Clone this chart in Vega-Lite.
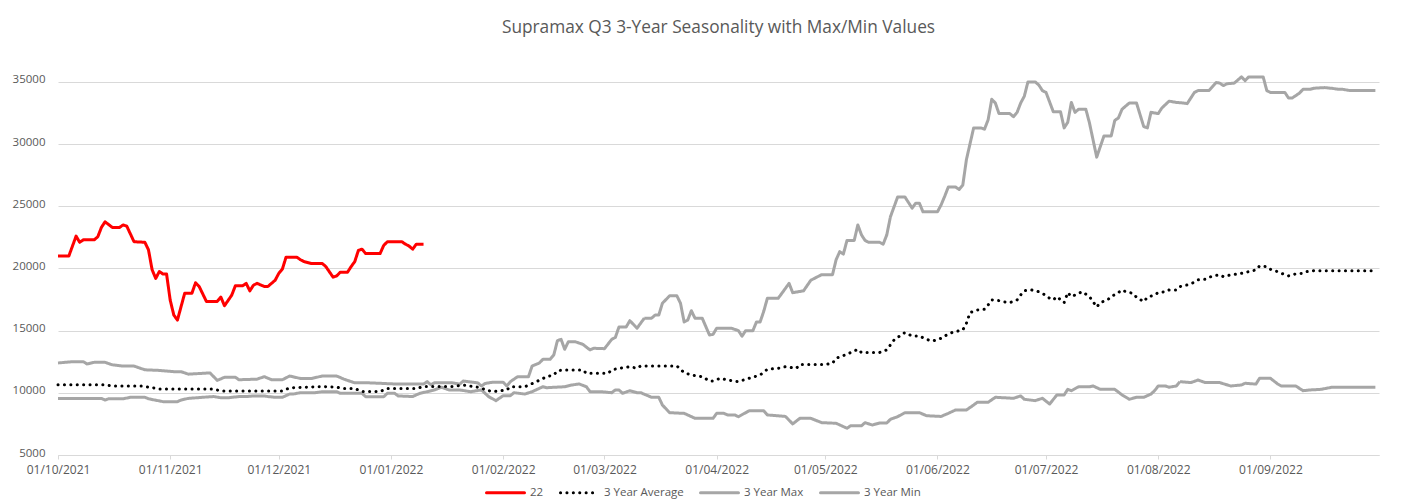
{
  "$schema": "https://vega.github.io/schema/vega-lite/v6.json",
  "width": 1321,
  "height": 398,
  "autosize": {"type": "none"},
  "padding": {"left": 58, "top": 57, "right": 25, "bottom": 49},
  "background": "white",
  "config": {"view": {"stroke": null}, "font": "Open Sans"},
  "title": {"text": "Supramax Q3 3-Year Seasonality with Max/Min Values", "fontSize": 17.3, "fontWeight": "normal", "color": "#595959", "anchor": "middle", "offset": 21},
  "datasets": {
    "s22": [
      {"date":"2021-10-01","value":21000},{"date":"2021-10-04","value":21000},{"date":"2021-10-06","value":22600},{"date":"2021-10-07","value":22100},{"date":"2021-10-08","value":22300},{"date":"2021-10-11","value":22300},{"date":"2021-10-12","value":22550},{"date":"2021-10-13","value":23300},{"date":"2021-10-14","value":23750},{"date":"2021-10-16","value":23300},{"date":"2021-10-18","value":23300},{"date":"2021-10-19","value":23500},{"date":"2021-10-20","value":23400},{"date":"2021-10-22","value":22150},{"date":"2021-10-25","value":22100},{"date":"2021-10-26","value":21500},{"date":"2021-10-27","value":19900},{"date":"2021-10-28","value":19200},{"date":"2021-10-29","value":19750},{"date":"2021-10-30","value":19550},{"date":"2021-10-31","value":19550},{"date":"2021-11-01","value":17450},{"date":"2021-11-02","value":16250},{"date":"2021-11-03","value":15850},{"date":"2021-11-05","value":18000},{"date":"2021-11-07","value":18000},{"date":"2021-11-08","value":18850},{"date":"2021-11-09","value":18550},{"date":"2021-11-11","value":17350},{"date":"2021-11-14","value":17350},{"date":"2021-11-15","value":17700},{"date":"2021-11-16","value":17000},{"date":"2021-11-18","value":17850},{"date":"2021-11-19","value":18600},{"date":"2021-11-21","value":18600},{"date":"2021-11-22","value":18800},{"date":"2021-11-23","value":18200},{"date":"2021-11-24","value":18650},{"date":"2021-11-25","value":18800},{"date":"2021-11-27","value":18550},{"date":"2021-11-28","value":18550},{"date":"2021-11-30","value":19050},{"date":"2021-12-01","value":19600},{"date":"2021-12-02","value":19950},{"date":"2021-12-03","value":20900},{"date":"2021-12-06","value":20900},{"date":"2021-12-07","value":20700},{"date":"2021-12-08","value":20550},{"date":"2021-12-10","value":20400},{"date":"2021-12-13","value":20400},{"date":"2021-12-14","value":20150},{"date":"2021-12-16","value":19300},{"date":"2021-12-17","value":19400},{"date":"2021-12-18","value":19700},{"date":"2021-12-20","value":19700},{"date":"2021-12-21","value":20150},{"date":"2021-12-22","value":20550},{"date":"2021-12-23","value":21450},{"date":"2021-12-24","value":21550},{"date":"2021-12-25","value":21200},{"date":"2021-12-29","value":21200},{"date":"2021-12-30","value":21850},{"date":"2021-12-31","value":22150},{"date":"2022-01-04","value":22150},{"date":"2022-01-05","value":21950},{"date":"2022-01-06","value":21800},{"date":"2022-01-07","value":21550},{"date":"2022-01-08","value":21950},{"date":"2022-01-10","value":21950}
    ],
    "avg": [
      {"date":"2021-10-01","value":10650},{"date":"2021-10-14","value":10650},{"date":"2021-10-16","value":10550},{"date":"2021-10-24","value":10550},{"date":"2021-10-27","value":10420},{"date":"2021-10-29","value":10300},{"date":"2021-11-13","value":10300},{"date":"2021-11-15","value":10150},{"date":"2021-12-02","value":10150},{"date":"2021-12-04","value":10400},{"date":"2021-12-08","value":10450},{"date":"2021-12-13","value":10500},{"date":"2021-12-17","value":10450},{"date":"2021-12-19","value":10350},{"date":"2021-12-22","value":10350},{"date":"2021-12-24","value":10100},{"date":"2021-12-29","value":10100},{"date":"2021-12-31","value":10350},{"date":"2022-01-08","value":10350},{"date":"2022-01-10","value":10500},{"date":"2022-01-18","value":10500},{"date":"2022-01-21","value":10630},{"date":"2022-01-25","value":10450},{"date":"2022-01-29","value":10090},{"date":"2022-02-02","value":10230},{"date":"2022-02-03","value":10490},{"date":"2022-02-07","value":10490},{"date":"2022-02-10","value":10870},{"date":"2022-02-13","value":11300},{"date":"2022-02-15","value":11430},{"date":"2022-02-16","value":11780},{"date":"2022-02-18","value":11840},{"date":"2022-02-23","value":11840},{"date":"2022-02-24","value":11570},{"date":"2022-03-02","value":11570},{"date":"2022-03-03","value":11840},{"date":"2022-03-05","value":11970},{"date":"2022-03-08","value":12100},{"date":"2022-03-10","value":11970},{"date":"2022-03-11","value":12160},{"date":"2022-03-21","value":12160},{"date":"2022-03-23","value":11620},{"date":"2022-03-25","value":11430},{"date":"2022-03-28","value":11300},{"date":"2022-03-30","value":10950},{"date":"2022-03-31","value":10950},{"date":"2022-04-02","value":11170},{"date":"2022-04-04","value":11030},{"date":"2022-04-07","value":10900},{"date":"2022-04-10","value":11170},{"date":"2022-04-13","value":11430},{"date":"2022-04-15","value":11890},{"date":"2022-04-18","value":11970},{"date":"2022-04-20","value":12100},{"date":"2022-04-23","value":11970},{"date":"2022-04-24","value":12280},{"date":"2022-05-01","value":12280},{"date":"2022-05-03","value":12380},{"date":"2022-05-04","value":12780},{"date":"2022-05-07","value":13100},{"date":"2022-05-08","value":13230},{"date":"2022-05-10","value":13500},{"date":"2022-05-11","value":13240},{"date":"2022-05-16","value":13240},{"date":"2022-05-18","value":13450},{"date":"2022-05-19","value":13850},{"date":"2022-05-20","value":14250},{"date":"2022-05-22","value":14650},{"date":"2022-05-23","value":14840},{"date":"2022-05-25","value":14570},{"date":"2022-05-27","value":14570},{"date":"2022-05-28","value":14430},{"date":"2022-05-30","value":14190},{"date":"2022-05-31","value":14190},{"date":"2022-06-02","value":14380},{"date":"2022-06-03","value":14570},{"date":"2022-06-05","value":14840},{"date":"2022-06-06","value":14920},{"date":"2022-06-08","value":15050},{"date":"2022-06-09","value":15590},{"date":"2022-06-10","value":16450},{"date":"2022-06-12","value":16660},{"date":"2022-06-14","value":16720},{"date":"2022-06-15","value":17060},{"date":"2022-06-16","value":17470},{"date":"2022-06-18","value":17410},{"date":"2022-06-19","value":17330},{"date":"2022-06-21","value":17250},{"date":"2022-06-23","value":17470},{"date":"2022-06-24","value":17870},{"date":"2022-06-25","value":18210},{"date":"2022-06-27","value":18270},{"date":"2022-06-29","value":18130},{"date":"2022-06-30","value":18000},{"date":"2022-07-02","value":17600},{"date":"2022-07-03","value":17470},{"date":"2022-07-04","value":17730},{"date":"2022-07-06","value":17250},{"date":"2022-07-07","value":18060},{"date":"2022-07-08","value":17730},{"date":"2022-07-10","value":18000},{"date":"2022-07-11","value":18130},{"date":"2022-07-13","value":17730},{"date":"2022-07-14","value":17330},{"date":"2022-07-15","value":16900},{"date":"2022-07-16","value":17250},{"date":"2022-07-18","value":17470},{"date":"2022-07-19","value":17730},{"date":"2022-07-21","value":18060},{"date":"2022-07-22","value":18270},{"date":"2022-07-23","value":18130},{"date":"2022-07-25","value":18000},{"date":"2022-07-26","value":17680},{"date":"2022-07-28","value":17330},{"date":"2022-07-29","value":17680},{"date":"2022-07-31","value":17870},{"date":"2022-08-01","value":18060},{"date":"2022-08-03","value":18130},{"date":"2022-08-04","value":18270},{"date":"2022-08-06","value":18270},{"date":"2022-08-07","value":18540},{"date":"2022-08-09","value":18670},{"date":"2022-08-11","value":18890},{"date":"2022-08-12","value":19080},{"date":"2022-08-14","value":19130},{"date":"2022-08-16","value":19400},{"date":"2022-08-18","value":19480},{"date":"2022-08-19","value":19340},{"date":"2022-08-21","value":19480},{"date":"2022-08-23","value":19560},{"date":"2022-08-25","value":19660},{"date":"2022-08-26","value":19740},{"date":"2022-08-28","value":19880},{"date":"2022-08-29","value":20200},{"date":"2022-08-31","value":20140},{"date":"2022-09-01","value":19930},{"date":"2022-09-03","value":19740},{"date":"2022-09-04","value":19610},{"date":"2022-09-06","value":19400},{"date":"2022-09-08","value":19560},{"date":"2022-09-10","value":19610},{"date":"2022-09-11","value":19740},{"date":"2022-09-13","value":19820},{"date":"2022-09-30","value":19820}
    ],
    "max": [
      {"date":"2021-10-01","value":12400},{"date":"2021-10-05","value":12500},{"date":"2021-10-08","value":12500},{"date":"2021-10-09","value":12320},{"date":"2021-10-11","value":12450},{"date":"2021-10-14","value":12450},{"date":"2021-10-16","value":12250},{"date":"2021-10-19","value":12150},{"date":"2021-10-22","value":12150},{"date":"2021-10-25","value":11850},{"date":"2021-10-29","value":11800},{"date":"2021-11-02","value":11700},{"date":"2021-11-04","value":11700},{"date":"2021-11-06","value":11500},{"date":"2021-11-12","value":11600},{"date":"2021-11-14","value":11000},{"date":"2021-11-16","value":11250},{"date":"2021-11-19","value":11250},{"date":"2021-11-20","value":11050},{"date":"2021-11-25","value":11100},{"date":"2021-11-27","value":11300},{"date":"2021-11-29","value":11050},{"date":"2021-12-02","value":11050},{"date":"2021-12-04","value":11350},{"date":"2021-12-07","value":11150},{"date":"2021-12-10","value":11150},{"date":"2021-12-13","value":11350},{"date":"2021-12-17","value":11350},{"date":"2021-12-19","value":11100},{"date":"2021-12-22","value":10800},{"date":"2021-12-26","value":10800},{"date":"2021-12-30","value":10750},{"date":"2022-01-03","value":10700},{"date":"2022-01-10","value":10700},{"date":"2022-01-11","value":10900},{"date":"2022-01-12","value":10650},{"date":"2022-01-13","value":10800},{"date":"2022-01-18","value":10800},{"date":"2022-01-20","value":10700},{"date":"2022-01-21","value":10950},{"date":"2022-01-25","value":10800},{"date":"2022-01-26","value":10550},{"date":"2022-01-27","value":10750},{"date":"2022-01-29","value":10850},{"date":"2022-02-01","value":10850},{"date":"2022-02-02","value":10550},{"date":"2022-02-03","value":10900},{"date":"2022-02-05","value":11300},{"date":"2022-02-08","value":11300},{"date":"2022-02-09","value":12150},{"date":"2022-02-11","value":12400},{"date":"2022-02-12","value":12700},{"date":"2022-02-14","value":12700},{"date":"2022-02-15","value":13050},{"date":"2022-02-16","value":14200},{"date":"2022-02-17","value":14300},{"date":"2022-02-18","value":13500},{"date":"2022-02-19","value":14100},{"date":"2022-02-21","value":14100},{"date":"2022-02-23","value":13900},{"date":"2022-02-25","value":13450},{"date":"2022-02-26","value":13580},{"date":"2022-03-01","value":13550},{"date":"2022-03-03","value":14300},{"date":"2022-03-04","value":14450},{"date":"2022-03-05","value":15300},{"date":"2022-03-07","value":15300},{"date":"2022-03-08","value":15800},{"date":"2022-03-10","value":15200},{"date":"2022-03-12","value":16000},{"date":"2022-03-14","value":16000},{"date":"2022-03-15","value":16250},{"date":"2022-03-16","value":16250},{"date":"2022-03-17","value":17200},{"date":"2022-03-19","value":17800},{"date":"2022-03-21","value":17800},{"date":"2022-03-22","value":17200},{"date":"2022-03-23","value":15700},{"date":"2022-03-24","value":15850},{"date":"2022-03-25","value":16600},{"date":"2022-03-26","value":16000},{"date":"2022-03-28","value":16000},{"date":"2022-03-30","value":14650},{"date":"2022-03-31","value":14700},{"date":"2022-04-01","value":15200},{"date":"2022-04-05","value":15200},{"date":"2022-04-07","value":15000},{"date":"2022-04-08","value":14550},{"date":"2022-04-09","value":15000},{"date":"2022-04-11","value":15000},{"date":"2022-04-12","value":15700},{"date":"2022-04-13","value":15700},{"date":"2022-04-14","value":16550},{"date":"2022-04-15","value":17600},{"date":"2022-04-18","value":17600},{"date":"2022-04-19","value":18000},{"date":"2022-04-21","value":18800},{"date":"2022-04-22","value":18050},{"date":"2022-04-25","value":18200},{"date":"2022-04-27","value":19050},{"date":"2022-04-30","value":19500},{"date":"2022-05-03","value":19500},{"date":"2022-05-04","value":20700},{"date":"2022-05-05","value":21350},{"date":"2022-05-06","value":21150},{"date":"2022-05-07","value":22250},{"date":"2022-05-09","value":22250},{"date":"2022-05-10","value":23500},{"date":"2022-05-11","value":22700},{"date":"2022-05-12","value":22250},{"date":"2022-05-13","value":22100},{"date":"2022-05-16","value":22100},{"date":"2022-05-17","value":21950},{"date":"2022-05-18","value":22700},{"date":"2022-05-19","value":24150},{"date":"2022-05-21","value":25750},{"date":"2022-05-23","value":25750},{"date":"2022-05-25","value":24850},{"date":"2022-05-26","value":25250},{"date":"2022-05-27","value":25250},{"date":"2022-05-28","value":24550},{"date":"2022-06-01","value":24550},{"date":"2022-06-02","value":25100},{"date":"2022-06-03","value":25800},{"date":"2022-06-04","value":26550},{"date":"2022-06-06","value":26550},{"date":"2022-06-07","value":26350},{"date":"2022-06-08","value":26700},{"date":"2022-06-09","value":28750},{"date":"2022-06-11","value":31300},{"date":"2022-06-13","value":31300},{"date":"2022-06-14","value":31200},{"date":"2022-06-15","value":31950},{"date":"2022-06-16","value":33600},{"date":"2022-06-17","value":33300},{"date":"2022-06-18","value":32450},{"date":"2022-06-21","value":32450},{"date":"2022-06-22","value":32200},{"date":"2022-06-23","value":32550},{"date":"2022-06-24","value":33300},{"date":"2022-06-25","value":33850},{"date":"2022-06-26","value":35000},{"date":"2022-06-28","value":35000},{"date":"2022-06-29","value":34750},{"date":"2022-06-30","value":34300},{"date":"2022-07-01","value":34150},{"date":"2022-07-03","value":32600},{"date":"2022-07-05","value":32600},{"date":"2022-07-06","value":31300},{"date":"2022-07-07","value":31750},{"date":"2022-07-08","value":33350},{"date":"2022-07-09","value":32550},{"date":"2022-07-10","value":32800},{"date":"2022-07-12","value":32800},{"date":"2022-07-13","value":31700},{"date":"2022-07-15","value":28950},{"date":"2022-07-17","value":30650},{"date":"2022-07-19","value":30650},{"date":"2022-07-20","value":31900},{"date":"2022-07-21","value":32100},{"date":"2022-07-22","value":32800},{"date":"2022-07-24","value":33300},{"date":"2022-07-26","value":33300},{"date":"2022-07-28","value":31400},{"date":"2022-07-29","value":31300},{"date":"2022-07-30","value":32550},{"date":"2022-08-01","value":32450},{"date":"2022-08-02","value":32900},{"date":"2022-08-04","value":33450},{"date":"2022-08-06","value":33350},{"date":"2022-08-08","value":33300},{"date":"2022-08-09","value":33250},{"date":"2022-08-11","value":34150},{"date":"2022-08-12","value":34300},{"date":"2022-08-15","value":34300},{"date":"2022-08-17","value":34950},{"date":"2022-08-18","value":34900},{"date":"2022-08-19","value":34700},{"date":"2022-08-20","value":34850},{"date":"2022-08-22","value":34900},{"date":"2022-08-24","value":35400},{"date":"2022-08-25","value":35100},{"date":"2022-08-26","value":35400},{"date":"2022-08-30","value":35400},{"date":"2022-08-31","value":34300},{"date":"2022-09-01","value":34150},{"date":"2022-09-05","value":34150},{"date":"2022-09-06","value":33700},{"date":"2022-09-07","value":33700},{"date":"2022-09-09","value":34090},{"date":"2022-09-10","value":34400},{"date":"2022-09-12","value":34400},{"date":"2022-09-13","value":34490},{"date":"2022-09-16","value":34540},{"date":"2022-09-18","value":34480},{"date":"2022-09-20","value":34400},{"date":"2022-09-21","value":34400},{"date":"2022-09-23","value":34300},{"date":"2022-09-30","value":34300}
    ],
    "min": [
      {"date":"2021-10-01","value":9550},{"date":"2021-10-07","value":9550},{"date":"2021-10-13","value":9550},{"date":"2021-10-14","value":9420},{"date":"2021-10-15","value":9520},{"date":"2021-10-19","value":9520},{"date":"2021-10-21","value":9640},{"date":"2021-10-25","value":9640},{"date":"2021-10-26","value":9520},{"date":"2021-10-30","value":9290},{"date":"2021-11-03","value":9290},{"date":"2021-11-04","value":9420},{"date":"2021-11-06","value":9550},{"date":"2021-11-10","value":9640},{"date":"2021-11-13","value":9700},{"date":"2021-11-15","value":9600},{"date":"2021-11-17","value":9600},{"date":"2021-11-20","value":9700},{"date":"2021-11-22","value":9700},{"date":"2021-11-24","value":9750},{"date":"2021-11-27","value":9750},{"date":"2021-11-28","value":9700},{"date":"2021-11-30","value":9640},{"date":"2021-12-02","value":9640},{"date":"2021-12-04","value":9900},{"date":"2021-12-05","value":9900},{"date":"2021-12-07","value":10010},{"date":"2021-12-11","value":10010},{"date":"2021-12-13","value":10090},{"date":"2021-12-17","value":10090},{"date":"2021-12-18","value":9960},{"date":"2021-12-24","value":9960},{"date":"2021-12-25","value":9690},{"date":"2021-12-30","value":9690},{"date":"2021-12-31","value":9960},{"date":"2022-01-02","value":9960},{"date":"2022-01-03","value":9750},{"date":"2022-01-07","value":9700},{"date":"2022-01-09","value":9960},{"date":"2022-01-11","value":10090},{"date":"2022-01-13","value":10230},{"date":"2022-01-15","value":10450},{"date":"2022-01-17","value":10230},{"date":"2022-01-20","value":10230},{"date":"2022-01-23","value":10090},{"date":"2022-01-26","value":10230},{"date":"2022-01-28","value":9690},{"date":"2022-01-30","value":9370},{"date":"2022-02-01","value":9770},{"date":"2022-02-03","value":9770},{"date":"2022-02-04","value":10010},{"date":"2022-02-07","value":9900},{"date":"2022-02-09","value":10090},{"date":"2022-02-12","value":10490},{"date":"2022-02-13","value":10410},{"date":"2022-02-18","value":10490},{"date":"2022-02-20","value":10630},{"date":"2022-02-22","value":10710},{"date":"2022-02-24","value":10490},{"date":"2022-02-25","value":10090},{"date":"2022-02-28","value":10090},{"date":"2022-03-03","value":10010},{"date":"2022-03-04","value":10230},{"date":"2022-03-05","value":10230},{"date":"2022-03-06","value":9960},{"date":"2022-03-08","value":10170},{"date":"2022-03-10","value":10010},{"date":"2022-03-11","value":10010},{"date":"2022-03-14","value":9640},{"date":"2022-03-16","value":9640},{"date":"2022-03-17","value":9020},{"date":"2022-03-19","value":8400},{"date":"2022-03-23","value":8350},{"date":"2022-03-26","value":7950},{"date":"2022-03-31","value":7950},{"date":"2022-04-01","value":8350},{"date":"2022-04-03","value":8350},{"date":"2022-04-04","value":8220},{"date":"2022-04-06","value":8220},{"date":"2022-04-07","value":8080},{"date":"2022-04-10","value":8560},{"date":"2022-04-14","value":8560},{"date":"2022-04-15","value":8220},{"date":"2022-04-20","value":8100},{"date":"2022-04-22","value":7500},{"date":"2022-04-24","value":7950},{"date":"2022-04-27","value":7950},{"date":"2022-04-30","value":7600},{"date":"2022-05-04","value":7550},{"date":"2022-05-07","value":7150},{"date":"2022-05-08","value":7350},{"date":"2022-05-11","value":7350},{"date":"2022-05-12","value":7600},{"date":"2022-05-14","value":7410},{"date":"2022-05-16","value":7570},{"date":"2022-05-18","value":7570},{"date":"2022-05-19","value":7870},{"date":"2022-05-21","value":8080},{"date":"2022-05-23","value":8400},{"date":"2022-05-27","value":8400},{"date":"2022-05-29","value":8160},{"date":"2022-06-02","value":8100},{"date":"2022-06-04","value":8350},{"date":"2022-06-06","value":8620},{"date":"2022-06-09","value":8620},{"date":"2022-06-11","value":9020},{"date":"2022-06-12","value":9240},{"date":"2022-06-15","value":9240},{"date":"2022-06-17","value":9640},{"date":"2022-06-22","value":9560},{"date":"2022-06-24","value":9750},{"date":"2022-06-25","value":9480},{"date":"2022-06-28","value":9370},{"date":"2022-06-30","value":9560},{"date":"2022-07-02","value":9100},{"date":"2022-07-04","value":9830},{"date":"2022-07-06","value":9830},{"date":"2022-07-07","value":10280},{"date":"2022-07-08","value":10170},{"date":"2022-07-10","value":10490},{"date":"2022-07-13","value":10480},{"date":"2022-07-14","value":10550},{"date":"2022-07-16","value":10280},{"date":"2022-07-20","value":10280},{"date":"2022-07-22","value":9830},{"date":"2022-07-24","value":9480},{"date":"2022-07-26","value":9640},{"date":"2022-07-28","value":9640},{"date":"2022-07-30","value":9900},{"date":"2022-07-31","value":10170},{"date":"2022-08-01","value":10550},{"date":"2022-08-03","value":10550},{"date":"2022-08-04","value":10450},{"date":"2022-08-06","value":10550},{"date":"2022-08-07","value":10900},{"date":"2022-08-10","value":10820},{"date":"2022-08-12","value":11030},{"date":"2022-08-14","value":10820},{"date":"2022-08-18","value":10820},{"date":"2022-08-21","value":10550},{"date":"2022-08-24","value":10630},{"date":"2022-08-25","value":10770},{"date":"2022-08-28","value":10700},{"date":"2022-08-29","value":11170},{"date":"2022-09-01","value":11170},{"date":"2022-09-03","value":10710},{"date":"2022-09-04","value":10550},{"date":"2022-09-08","value":10550},{"date":"2022-09-10","value":10170},{"date":"2022-09-12","value":10230},{"date":"2022-09-15","value":10280},{"date":"2022-09-18","value":10450},{"date":"2022-09-23","value":10450},{"date":"2022-09-30","value":10450}
    ]
  },
  "layer": [
    {
      "data": {"name": "min"},
      "transform": [{"calculate": "'3 Year Min'", "as": "series"}],
      "mark": {"type": "line", "strokeWidth": 3, "strokeJoin": "round"},
      "encoding": {
        "x": {"field": "date", "type": "temporal"},
        "y": {"field": "value", "type": "quantitative"},
        "color": {"field": "series", "type": "nominal"},
        "strokeDash": {"field": "series", "type": "nominal"}
      }
    },
    {
      "data": {"name": "max"},
      "transform": [{"calculate": "'3 Year Max'", "as": "series"}],
      "mark": {"type": "line", "strokeWidth": 3, "strokeJoin": "round"},
      "encoding": {
        "x": {"field": "date", "type": "temporal"},
        "y": {"field": "value", "type": "quantitative"},
        "color": {"field": "series", "type": "nominal"},
        "strokeDash": {"field": "series", "type": "nominal"}
      }
    },
    {
      "data": {"name": "avg"},
      "transform": [{"calculate": "'3 Year Average'", "as": "series"}],
      "mark": {"type": "line", "strokeWidth": 3, "strokeCap": "round"},
      "encoding": {
        "x": {"field": "date", "type": "temporal"},
        "y": {"field": "value", "type": "quantitative"},
        "color": {"field": "series", "type": "nominal"},
        "strokeDash": {"field": "series", "type": "nominal"}
      }
    },
    {
      "data": {"name": "s22"},
      "transform": [{"calculate": "'22'", "as": "series"}],
      "mark": {"type": "line", "strokeWidth": 3, "strokeJoin": "round"},
      "encoding": {
        "x": {
          "field": "date", "type": "temporal",
          "scale": {"type": "utc", "domain": [{"year": 2021, "month": 10, "date": 1, "utc": true}, {"year": 2022, "month": 10, "date": 1, "utc": true}]},
          "axis": {
            "title": null, "grid": false, "format": "%d/%m/%Y",
            "values": [
              {"year": 2021, "month": 10, "date": 1, "utc": true}, {"year": 2021, "month": 11, "date": 1, "utc": true}, {"year": 2021, "month": 12, "date": 1, "utc": true},
              {"year": 2022, "month": 1, "date": 1, "utc": true}, {"year": 2022, "month": 2, "date": 1, "utc": true}, {"year": 2022, "month": 3, "date": 1, "utc": true},
              {"year": 2022, "month": 4, "date": 1, "utc": true}, {"year": 2022, "month": 5, "date": 1, "utc": true}, {"year": 2022, "month": 6, "date": 1, "utc": true},
              {"year": 2022, "month": 7, "date": 1, "utc": true}, {"year": 2022, "month": 8, "date": 1, "utc": true}, {"year": 2022, "month": 9, "date": 1, "utc": true}
            ],
            "labelFontSize": 12, "labelColor": "#595959", "labelPadding": 5, "labelFlush": false, "labelOverlap": false,
            "domainColor": "#d9d9d9", "tickColor": "#d9d9d9", "tickSize": 4
          }
        },
        "y": {
          "field": "value", "type": "quantitative",
          "scale": {"domain": [5000, 37000], "nice": false, "zero": false},
          "axis": {
            "title": null, "values": [5000, 10000, 15000, 20000, 25000, 30000, 35000], "format": "d",
            "domain": false, "ticks": false, "gridColor": "#d9d9d9", "gridWidth": 1,
            "labelFontSize": 11.5, "labelColor": "#595959", "labelPadding": 13, "labelOffset": -2
          }
        },
        "color": {
          "field": "series", "type": "nominal",
          "scale": {"domain": ["22", "3 Year Average", "3 Year Max", "3 Year Min"], "range": ["#ff0000", "#000000", "#a6a6a6", "#a6a6a6"]},
          "legend": {
            "title": null, "orient": "none", "legendX": 427, "legendY": 415, "direction": "horizontal", "columns": 4,
            "symbolType": "stroke", "symbolSize": 1444, "symbolStrokeWidth": 3, "columnPadding": 10, "labelOffset": 4,
            "labelFontSize": 11.5, "labelColor": "#595959", "padding": 0,
            "encode": {"symbols": {"update": {"strokeCap": {"value": "round"}}}}
          }
        },
        "strokeDash": {
          "field": "series", "type": "nominal",
          "scale": {"domain": ["22", "3 Year Average", "3 Year Max", "3 Year Min"], "range": [[1, 0], [0.1, 6.3], [1, 0], [1, 0]]},
          "legend": {
            "title": null, "orient": "none", "legendX": 427, "legendY": 415, "direction": "horizontal", "columns": 4,
            "symbolType": "stroke", "symbolSize": 1444, "symbolStrokeWidth": 3, "columnPadding": 10, "labelOffset": 4,
            "labelFontSize": 11.5, "labelColor": "#595959", "padding": 0,
            "encode": {"symbols": {"update": {"strokeCap": {"value": "round"}}}}
          }
        }
      }
    }
  ]
}
